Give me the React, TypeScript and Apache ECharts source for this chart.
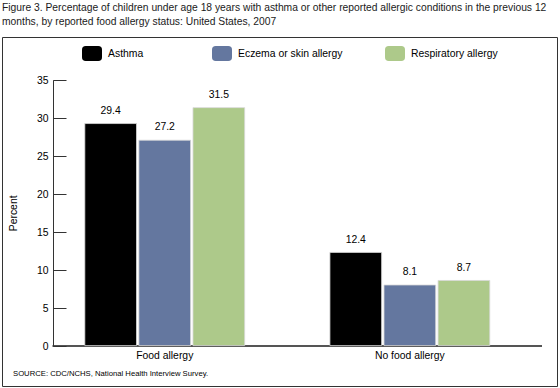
import React, { useEffect, useRef } from "react";
import * as echarts from "echarts";

const categories = ["Food allergy", "No food allergy"];
const seriesNames = ["Asthma", "Eczema or skin allergy", "Respiratory allergy"];
const asthma = [29.4, 12.4];
const eczema = [27.2, 8.1];
const respiratory = [31.5, 8.7];
const colors = ["#000000", "#64779f", "#adc98a"];
const titleText =
  "Figure 3. Percentage of children under age 18 years with asthma or other reported allergic conditions in the previous 12\nmonths, by reported food allergy status: United States, 2007";
const sourceText = "SOURCE: CDC/NCHS, National Health Interview Survey.";

const FONT = "'Liberation Sans', Arial, sans-serif";
const FS = 10.4;

export default function App() {
  const ref = useRef<HTMLDivElement>(null);
  useEffect(() => {
    if (!ref.current) return;
    const chart = echarts.init(ref.current, undefined, { renderer: "svg" });
    const values = [asthma, eczema, respiratory];
    const legendLefts = [82, 212, 385];
    chart.setOption({
      animation: false,
      backgroundColor: "#ffffff",
      textStyle: { fontFamily: FONT },
      title: {
        text: titleText,
        left: 2,
        top: 1,
        padding: 0,
        textStyle: {
          fontSize: 10.3,
          fontWeight: "normal",
          color: "#1a1a1a",
          lineHeight: 13.5,
          fontFamily: FONT,
        },
      },
      legend: seriesNames.map((n, i) => ({
        data: [n],
        left: legendLefts[i],
        top: 46,
        padding: 0,
        itemWidth: 20,
        itemHeight: 15,
        itemStyle: { borderWidth: 0 },
        textStyle: { fontSize: FS, color: "#000", fontFamily: FONT, padding: [0, 0, 0, 1] },
        selectedMode: false,
      })),
      grid: { left: 41.2, right: 27.6, top: 80.7, bottom: 42, containLabel: false },
      xAxis: {
        type: "category",
        data: categories,
        axisLine: { show: false },
        axisTick: { show: false },
        axisLabel: { fontSize: FS, color: "#000", margin: 4, fontFamily: FONT },
      },
      yAxis: {
        type: "value",
        min: 0,
        max: 35,
        interval: 5,
        offset: -11.3,
        name: "Percent",
        nameLocation: "middle",
        nameRotate: 90,
        nameGap: 35.5,
        nameTextStyle: { fontSize: FS, color: "#000", fontFamily: FONT },
        axisLine: { show: true, lineStyle: { color: "#333", width: 1 } },
        axisTick: { show: true, inside: true, length: 13, lineStyle: { color: "#333", width: 1 } },
        axisLabel: { fontSize: FS, color: "#000", margin: 5, fontFamily: FONT },
        splitLine: { show: false },
      },
      series: seriesNames.map((n, i) => ({
        name: n,
        type: "bar",
        data: values[i],
        barWidth: 52.5,
        barGap: "3%",
        itemStyle: { color: colors[i], borderColor: "#d8d8d8", borderWidth: 0.8 },
        label: {
          show: true,
          position: "top",
          distance: 8,
          fontSize: FS,
          color: "#000",
          fontFamily: FONT,
          formatter: (p: any) => Number(p.value).toFixed(1),
        },
      })),
      graphic: [
        {
          type: "rect",
          shape: { x: 2.5, y: 37.5, width: 555, height: 349 },
          style: { fill: "none", stroke: "#333", lineWidth: 1 },
          silent: true,
        },
        {
          type: "line",
          shape: { x1: 52.5, y1: 346, x2: 542, y2: 346 },
          style: { stroke: "#555", lineWidth: 2 },
          silent: true,
        },
        {
          type: "text",
          x: 13,
          y: 373,
          style: {
            text: sourceText,
            fontSize: 7.7,
            fill: "#000",
            fontFamily: FONT,
            verticalAlign: "middle",
          },
          silent: true,
        },
      ],
    });
    return () => chart.dispose();
  }, []);
  return (
    <div
      ref={ref}
      style={{ position: "absolute", left: 0, top: 0, width: 560, height: 388 }}
    />
  );
}
